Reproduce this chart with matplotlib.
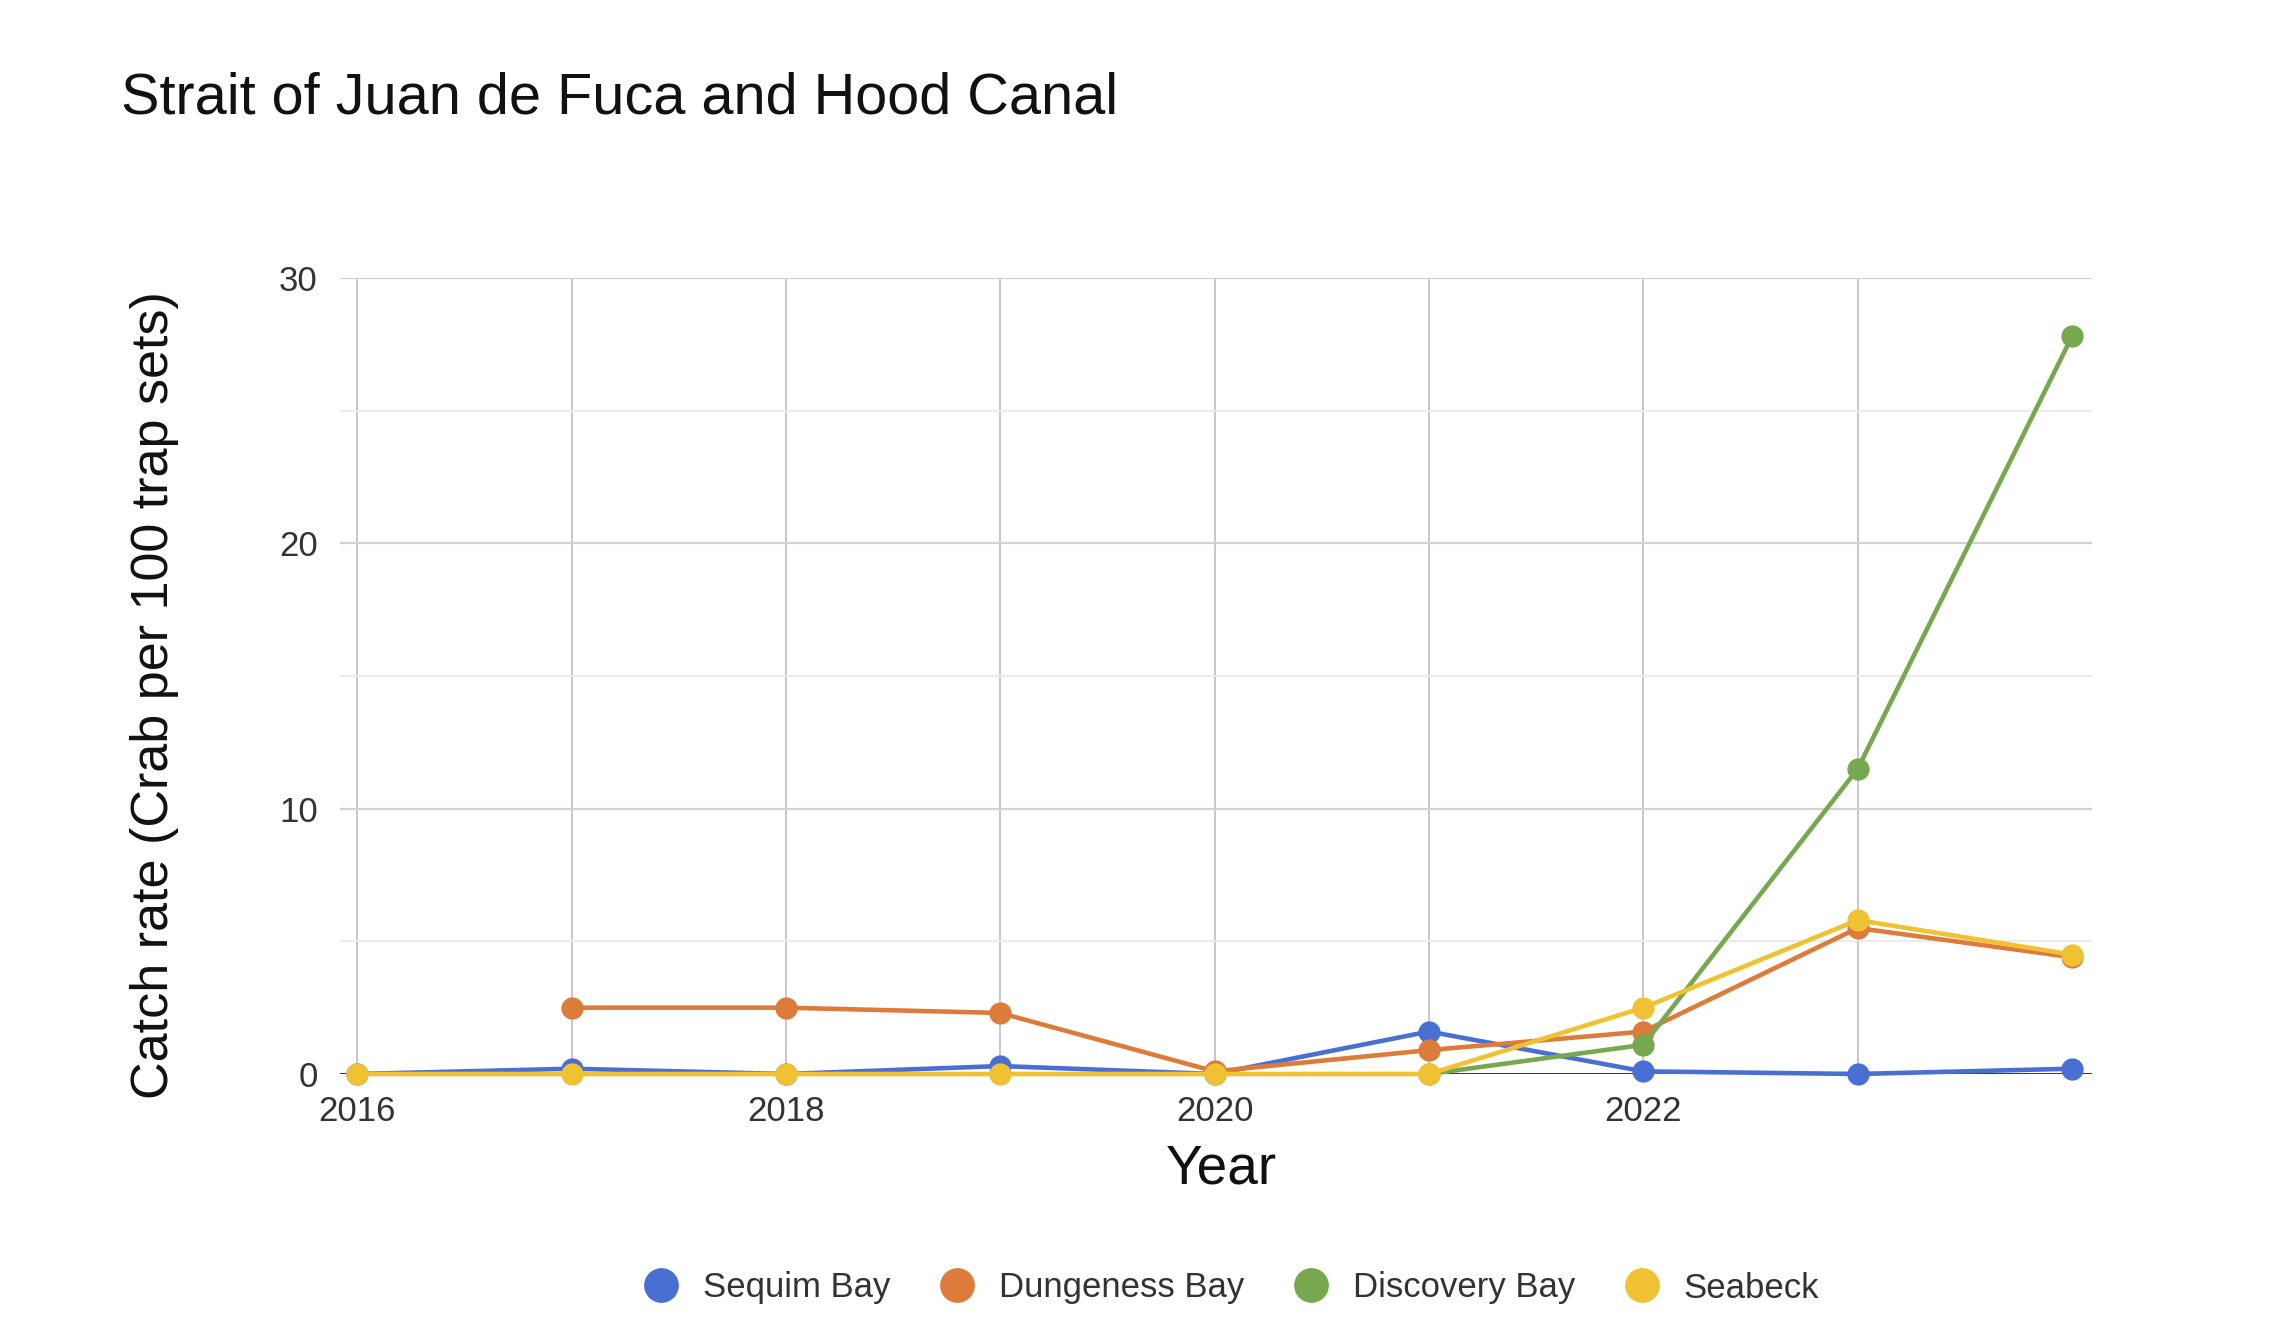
import numpy as np
import matplotlib.pyplot as plt
from matplotlib.lines import Line2D

plt.rcParams['font.family'] = ['Liberation Sans', 'DejaVu Sans']

years = [2016, 2017, 2018, 2019, 2020, 2021, 2022, 2023, 2024]
sequim_bay = [0, 0.2, 0, 0.3, 0, 1.6, 0.1, 0, 0.2]
dungeness_bay = [np.nan, 2.5, 2.5, 2.3, 0.1, 0.9, 1.6, 5.5, 4.4]
discovery_bay = [np.nan, np.nan, np.nan, np.nan, np.nan, 0, 1.1, 11.5, 27.8]
seabeck = [0, 0, 0, 0, 0, 0, 2.5, 5.8, 4.5]

series = [("Sequim Bay", sequim_bay, "#4a6fd3"),
          ("Dungeness Bay", dungeness_bay, "#dd7b3a"),
          ("Discovery Bay", discovery_bay, "#77a84f"),
          ("Seabeck", seabeck, "#f0c233")]

my_dpi = 100
fig = plt.figure(figsize = (2280 / my_dpi, 1332 / my_dpi), dpi = my_dpi)
ax = fig.add_axes([340 / 2280, 1 - 1074 / 1332, (2092 - 340) / 2280, (1074 - 278) / 1332])

ax.set_xlim(2015.92, 2024.093)
ax.set_ylim(0, 30)

# grid: vertical every year, horizontal major/minor
for yr in years[:-1] :
    ax.axvline(yr, color = "#c8c8c8", linewidth = 1.4, zorder = 0)
for v in [5, 15, 25] :
    ax.axhline(v, color = "#ebebeb", linewidth = 1.4, zorder = 0)
for v in [10, 20, 30] :
    ax.axhline(v, color = "#d2d2d2", linewidth = 1.6, zorder = 0)
ax.axhline(0, color = "#222222", linewidth = 2, zorder = 1)

for s in ax.spines.values() :
    s.set_visible(False)

for k, (name, vals, col) in enumerate(series) :
    ax.plot(years, vals, color = col, linewidth = 3.3, marker = 'o', markersize = 15,
            zorder = 3 + k, clip_on = False)

ax.set_yticks([0, 10, 20, 30])
ax.set_xticks([2016, 2018, 2020, 2022])
ax.tick_params(length = 0, labelsize = 25, labelcolor = "#333333")
ax.tick_params(axis = 'y', pad = 16)
ax.tick_params(axis = 'x', pad = 15)

fig.text(121 / 2280, 1 - 99 / 1332, "Strait of Juan de Fuca and Hood Canal",
         fontsize = 41.5, color = "#111111", va = 'center', ha = 'left')
fig.text(155 / 2280, 1 - 695 / 1332, "Catch rate (Crab per 100 trap sets)",
         fontsize = 37.5, color = "#111111", rotation = 90, va = 'center', ha = 'center')
fig.text(1221 / 2280, 1 - 1170 / 1332, "Year",
         fontsize = 39.5, color = "#111111", va = 'center', ha = 'center')

handles = [Line2D([], [], linestyle = 'none', marker = 'o', markersize = 24, color = col)
           for name, vals, col in series]
fig.legend(handles, [s[0] for s in series], loc = 'center', ncol = 4,
           bbox_to_anchor = (1228 / 2280, 1 - 1288 / 1332), frameon = False,
           fontsize = 25, handlelength = 1.4, handletextpad = 0.5, columnspacing = 1.23,
           labelcolor = "#333333")

plt.savefig("out.png", dpi = my_dpi)
